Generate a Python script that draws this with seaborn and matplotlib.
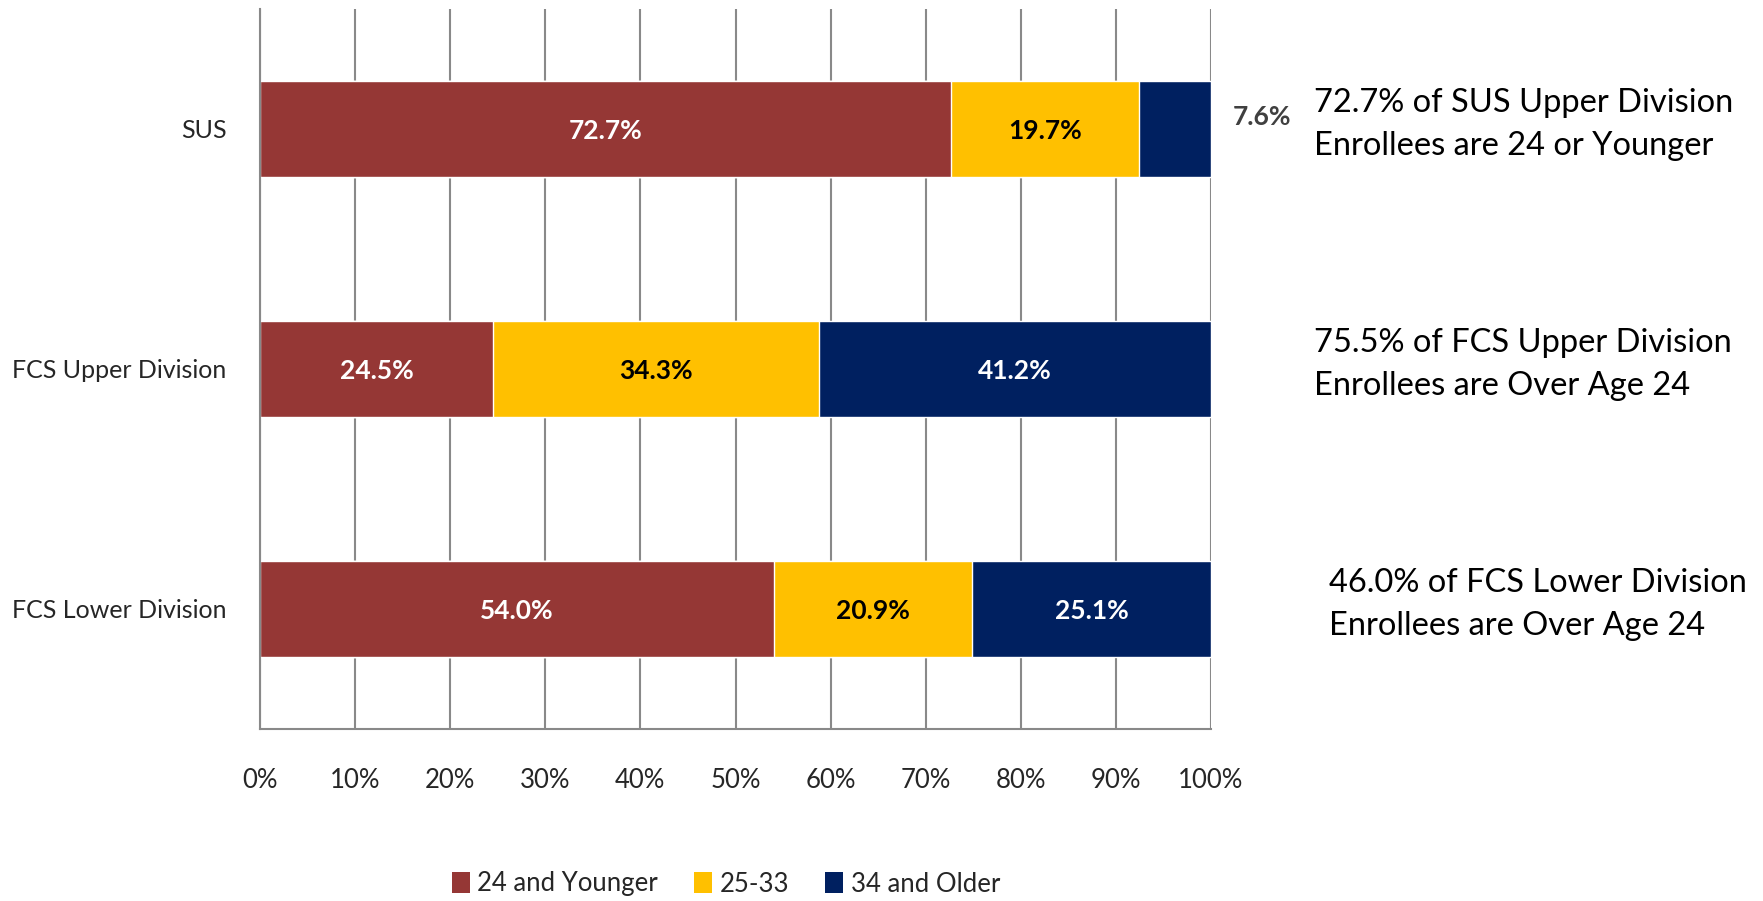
import pandas as pd
import seaborn as sns
import matplotlib.pyplot as plt
from matplotlib.patches import Patch

# Data
categories = ["SUS", "FCS Upper Division", "FCS Lower Division"]
age_24_younger = [72.7, 24.5, 54.0]
age_25_33 = [19.7, 34.3, 20.9]
age_34_older = [7.6, 41.2, 25.1]
series_names = ["24 and Younger", "25-33", "34 and Older"]
notes = [
    "72.7% of SUS Upper Division\nEnrollees are 24 or Younger",
    "75.5% of FCS Upper Division\nEnrollees are Over Age 24",
    "46.0% of FCS Lower Division\nEnrollees are Over Age 24",
]
x_ticks = [0, 10, 20, 30, 40, 50, 60, 70, 80, 90, 100]

colors = ["#953735", "#FFC000", "#002060"]
label_colors = ["white", "black", "white"]

df = pd.DataFrame({
    "category": categories,
    series_names[0]: age_24_younger,
    series_names[1]: age_25_33,
    series_names[2]: age_34_older,
})
# cumulative ends for the stacked look
cum = df[series_names].cumsum(axis=1)

sns.set_style("white")
plt.rcParams["font.family"] = ["Lato", "DejaVu Sans"]

fig = plt.figure(figsize=(17.63, 9.01), dpi=100)
ax = fig.add_axes([260 / 1763, 1 - 729 / 901, 951 / 1763, 720 / 901])

grid_color = "#898989"
ax.set_axisbelow(True)
ax.grid(axis="x", color=grid_color, linewidth=1.5)

# draw the longest (cumulative) bar first so the shorter ones sit on top
for name, color in reversed(list(zip(series_names, colors))):
    sns.barplot(x=cum[name], y=df["category"], orient="h", color=color,
                width=0.4, saturation=1, ax=ax)

# value labels
for j in range(len(categories)):
    left = 0
    for name, tc in zip(series_names, label_colors):
        val = df.loc[j, name]
        if val < 10:
            ax.text(105.4, j - 0.05, f"{val:.1f}%", ha="center", va="center",
                    fontsize=19, fontweight="bold", color="#404040", clip_on=False)
        else:
            ax.text(left + val / 2, j + 0.01, f"{val:.1f}%", ha="center", va="center",
                    fontsize=19, fontweight="bold", color=tc)
        left += val

# notes to the right of each bar
note_x = [110.8, 110.8, 112.4]
for j, note in enumerate(notes):
    ax.text(note_x[j], j - 0.02, note, ha="left", va="center", fontsize=23.5,
            color="black", linespacing=1.55, clip_on=False)

ax.set_xlim(0, 100)
ax.set_ylim(2.5, -0.5)
ax.set_xticks(x_ticks)
ax.set_xticklabels([f"{t}%" for t in x_ticks], fontsize=18.5, color="#262626")
ax.set_yticks(range(len(categories)))
ax.set_yticklabels(categories, fontsize=18, color="#262626")
ax.set_yticks([-0.5, 0.5, 1.5, 2.5], minor=True)
ax.tick_params(axis="y", which="major", length=0, pad=24)
ax.tick_params(axis="y", which="minor", length=8, width=1.5, color=grid_color)
ax.tick_params(axis="x", length=8, width=1.5, color=grid_color, pad=20)
ax.set_xlabel("")
ax.set_ylabel("")

for side in ["top", "right"]:
    ax.spines[side].set_visible(False)
for side in ["left", "bottom"]:
    ax.spines[side].set_color(grid_color)
    ax.spines[side].set_linewidth(1.5)

handles = [Patch(facecolor=c, edgecolor="none") for c in colors]
fig.legend(handles, series_names, loc="center", ncol=3,
           bbox_to_anchor=(726 / 1763, 1 - 884 / 901), frameon=False,
           fontsize=18.5, handlelength=0.7, handleheight=0.9,
           handletextpad=0.3, columnspacing=1.4)

fig.savefig("out.png", dpi=100)
